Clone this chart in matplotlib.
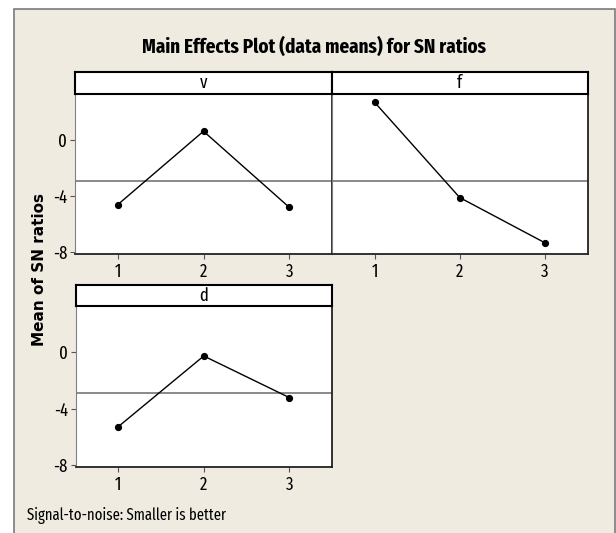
import matplotlib
matplotlib.use("Agg")
from matplotlib import pyplot as plt
from matplotlib.patches import Rectangle
import numpy as np

## Data ------------------------------------------------------------------
levels = [1, 2, 3]
factors = ["v", "f", "d"]
sn_v = [-4.60, 0.64, -4.79]
sn_f = [2.71, -4.10, -7.33]
sn_d = [-5.29, -0.27, -3.22]
yticks = [0, -4, -8]

means = {"v": sn_v, "f": sn_f, "d": sn_d}
grand_mean = np.mean(sn_v + sn_f + sn_d)

## Style -----------------------------------------------------------------
narrow = ["Fira Sans Extra Condensed", "DejaVu Sans"]
fsize = 13
bg = "#efebe1"
W, H = 616, 533

plt.rc("font", family=narrow, size=fsize)

fig = plt.figure(figsize=(W / 100, H / 100), dpi=100)
fig.patch.set_facecolor("white")

# beige frame round the whole chart
frame = Rectangle(
    (13.5 / W, -0.05), (615 - 13.5) / W, 1 - 8.5 / H + 0.05,
    transform=fig.transFigure, facecolor=bg, edgecolor="#7a7a7a",
    linewidth=1.2, zorder=-10,
)
fig.patches.append(frame)

# panel boxes in pixels: (left, right, strip top, plot top, plot bottom)
boxes = {
    "v": (75, 332, 72, 94, 254),
    "f": (332, 587.5, 72, 94, 254),
    "d": (75.5, 332, 285, 305.7, 466.7),
}


def fig_rect(l, r, t, b):
    return [l / W, 1 - b / H, (r - l) / W, (b - t) / H]


for name in factors:
    l, r, st, pt, pb = boxes[name]

    ax = fig.add_axes(fig_rect(l, r, pt, pb))
    ax.set_facecolor("white")
    ax.axhline(grand_mean, color="#6a6a6a", linewidth=1.1, zorder=1)
    ax.plot(levels, means[name], color="black", linewidth=1.0,
            marker="o", markersize=4.2, zorder=3)
    ax.set_xlim(0.5, 3.5)
    ax.set_ylim(-8.13, 3.3)
    ax.set_xticks(levels)
    if name == "f":
        ax.set_yticks([])
    else:
        ax.set_yticks(yticks)
        ax.set_yticklabels([str(y) for y in yticks])
    ax.tick_params(axis="x", direction="out", length=3.6, width=0.8,
                   color="#555555", pad=3, labelsize=fsize)
    ax.tick_params(axis="y", direction="out", length=3.6, width=0.8,
                   color="#555555", pad=2, labelsize=fsize)
    ax.spines["left"].set_color("#808080")
    ax.spines["top"].set_visible(False)
    for s in ["bottom", "right"]:
        ax.spines[s].set_color("#222222")
        ax.spines[s].set_linewidth(1.3)

    # strip with the factor name
    sx = fig.add_axes(fig_rect(l, r, st, pt))
    sx.set_facecolor("white")
    sx.set_xticks([])
    sx.set_yticks([])
    for s in sx.spines.values():
        s.set_color("black")
        s.set_linewidth(1.5)
    sx.text(0.5, 0.5, name, ha="center", va="center",
            transform=sx.transAxes, fontsize=fsize)

fig.text(314 / W, 1 - 47 / H, "Main Effects Plot (data means) for SN ratios",
         ha="center", va="center", fontsize=14.9, fontweight="bold")
fig.text(40 / W, 1 - 270 / H, "Mean of SN ratios", rotation=90,
         ha="center", va="center", fontsize=11, fontweight="bold",
         family="DejaVu Sans")
fig.text(26.7 / W, 1 - 516 / H, "Signal-to-noise: Smaller is better",
         ha="left", va="center", fontsize=11.5)

fig.savefig("out.png", dpi=100, facecolor=fig.get_facecolor())
